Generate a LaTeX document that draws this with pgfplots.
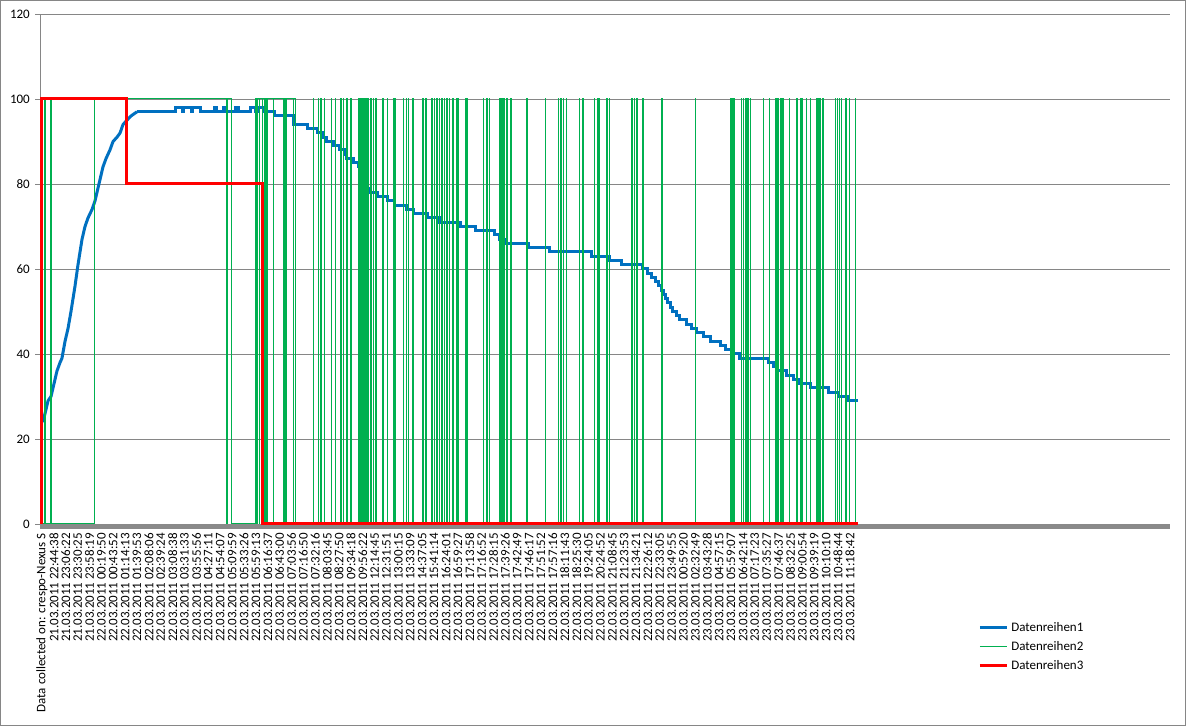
\documentclass[border=0pt]{standalone}
\usepackage{pgfplots}
\pgfplotsset{compat=1.18}
\usepackage{fontspec}
\setmainfont{Carlito}
\definecolor{sblue}{HTML}{0070C0}
\definecolor{sgreen}{HTML}{00B050}
\definecolor{sred}{HTML}{FF0000}
\definecolor{gridg}{HTML}{868686}
\definecolor{bandg}{HTML}{8A8A8A}

% Series 1, rising part (dense readings)
\pgfplotstableread{
x y
0 24
1.7 25
3.4 27
5.1 29
7.6 30
10.1 33
12.6 36
15.2 38
16.8 39
19.4 43
21.9 46
24.4 50
26.1 53
27.8 56
30.3 61
32.0 64
33.7 67
36.2 70
38.7 72
42.1 74
44.6 76
47.1 79
48.8 81
51.3 84
53.9 86
57.2 88
59.8 90
63.1 91
65.7 92
68.2 94
71.5 95
74.9 96
80.0 97
}\seriesArise

% Series 1, stepped part
\pgfplotstableread{
x y
80.0 97
112.0 98
118.0 97
119.0 98
126.0 97
127.0 98
133.0 97
145.6 98
147.3 97
152.4 98
154.0 97
162.5 98
165.0 97
175.1 98
180.0 97
181.0 98
187.7 97
196.1 96
211.3 94
223.1 93
232.3 92
235.7 91
239.1 90
245.0 89
250.8 88
254.2 87
256.7 86
261.8 85
266.0 84
270.2 80
272.7 79
276.1 78
282.0 77
290.4 76
296.3 75
306.4 74
313.1 73
324.1 72
334.2 71
351.9 70
365.3 69
380.5 68
384.7 67
388.9 66
409.1 65
426.8 64
462.2 63
477.3 62
487.4 61
505.1 60
509.3 59
512.7 58
516.1 57
518.6 56
521.1 55
522.8 54
524.5 53
526.2 52
528.6 51
531.1 50
533.7 49
537.0 48
542.1 47
546.3 46
551.3 45
557.2 44
562.3 43
570.7 42
574.9 41
580.8 40
587.5 39
611.1 38
615.3 37
619.5 36
626.3 35
632.2 34
637.2 33
646.5 32
661.6 31
670.1 30
677.7 29
687.0 29
}\seriesA

\pgfplotstableread{
x y
0 0
2.5 100
2.8 0
7.3 100
7.6 0
44.0 100
155.5 0
155.8 100
159.7 0
179.3 100
180.7 0
181.0 100
182.9 0
183.2 100
185.4 0
185.7 100
187.7 0
188.0 100
189.1 0
189.4 100
194.7 0
195.0 100
203.1 0
203.4 100
203.8 0
204.1 100
204.5 0
204.8 100
205.1 0
205.4 100
211.5 0
211.8 100
213.6 0
228.4 100
228.7 0
232.6 100
232.9 0
234.6 100
234.9 0
237.4 100
237.7 0
243.3 100
243.6 0
246.7 100
247.0 0
251.4 100
251.7 0
253.6 100
253.9 0
256.5 100
256.8 0
259.9 100
260.2 0
266.0 100
266.3 0
266.9 100
267.2 0
267.7 100
268.0 0
268.5 100
268.8 0
269.4 100
269.7 0
270.2 100
270.5 0
271.0 100
271.3 0
271.9 100
272.2 0
272.7 100
273.0 0
273.6 100
273.9 0
274.4 100
274.7 0
276.9 100
277.2 0
278.9 100
279.2 0
281.1 100
281.4 0
286.8 100
287.1 0
290.7 100
291.0 0
295.7 100
296.0 0
297.1 100
297.4 0
304.1 100
304.4 0
306.4 100
306.7 0
308.3 100
308.6 0
312.0 100
312.3 0
320.5 100
320.8 0
323.2 100
323.5 0
328.0 100
328.3 0
330.0 100
330.3 0
332.2 100
332.5 0
334.4 100
334.7 0
336.5 100
336.8 0
338.4 100
338.7 0
340.7 100
341.0 0
342.8 100
343.1 0
345.7 100
346.0 0
349.1 100
349.4 0
349.7 100
350.0 0
350.4 100
350.7 0
356.1 100
356.4 0
356.9 100
357.2 0
357.8 100
358.1 0
371.5 100
371.8 0
374.3 100
374.6 0
376.5 100
376.8 0
385.5 100
385.8 0
386.4 100
386.7 0
387.2 100
387.5 0
388.1 100
388.4 0
388.9 100
389.2 0
391.2 100
391.5 0
394.5 100
394.8 0
408.0 100
408.3 0
423.4 100
423.7 0
434.6 100
434.9 0
436.6 100
436.9 0
438.8 100
439.1 0
441.1 100
441.4 0
452.3 100
452.6 0
455.1 100
455.4 0
464.7 100
465.0 0
467.4 100
467.7 0
468.6 100
468.9 0
475.4 100
475.7 0
477.5 100
477.8 0
496.4 100
496.7 0
498.3 100
498.6 0
500.6 100
500.9 0
505.6 100
505.9 0
506.2 100
506.5 0
521.6 100
521.9 0
549.7 100
550.0 0
579.1 100
579.4 0
579.9 100
580.2 0
580.8 100
581.1 0
581.6 100
581.9 0
582.5 100
582.8 0
588.4 100
588.7 0
590.3 100
590.6 0
592.4 100
592.7 0
593.4 100
593.7 0
594.7 100
595.0 0
596.0 100
596.3 0
607.2 100
607.5 0
612.2 100
612.5 0
617.6 100
617.9 0
618.7 100
619.0 0
619.8 100
620.1 0
621.2 100
621.5 0
622.6 100
622.9 0
624.0 100
624.3 0
629.1 100
629.4 0
635.3 100
635.6 0
638.1 100
638.4 0
639.5 100
639.8 0
643.1 100
643.4 0
646.5 100
646.8 0
652.1 100
652.4 0
653.2 100
653.5 0
654.0 100
654.3 0
654.9 100
655.2 0
657.2 100
657.5 0
667.5 100
667.8 0
669.2 100
669.5 0
670.9 100
671.2 0
672.6 100
672.9 0
676.6 100
676.9 0
679.6 100
679.9 0
684.4 100
684.7 0
687.0 0
}\seriesB

\pgfplotstableread{
x y
0 0
0 100
71.5 100
71.5 80
185.4 80
185.4 0
687.0 0
}\seriesC

\begin{document}
\begin{tikzpicture}[x=1pt,y=1pt]
\useasboundingbox (0,0) rectangle (1187,726);
\draw[gridg, line width=0.8pt] (0.5,0.5) rectangle (1185,725.5);
\begin{axis}[
  at={(40pt,202pt)}, anchor=south west,
  scale only axis, width=1130pt, height=510pt,
  xmin=-1.68, xmax=949.5, ymin=0, ymax=120,
  clip=false,
  separate axis lines,
  axis x line*=bottom, axis y line*=left,
  axis line style={gridg, line width=0.8pt},
  ymajorgrids, grid style={gridg, line width=0.8pt},
  ytick={0,20,...,120},
  ytick align=outside, xtick align=inside,
  major tick length=5pt,
  ytick style={gridg, line width=0.8pt},
  xtick style={draw=none},
  yticklabel style={font=\fontsize{13}{15}\selectfont, inner sep=0pt, xshift=-5pt},
  /pgf/number format/assume math mode=true,
  xtick={0,10,...,680},
  xticklabels={Data collected on: crespo-Nexus S,
21.03.2011 22:44:38,21.03.2011 23:06:22,21.03.2011 23:30:25,21.03.2011 23:58:19,
22.03.2011 00:19:50,22.03.2011 00:43:52,22.03.2011 01:14:13,22.03.2011 01:39:53,
22.03.2011 02:08:06,22.03.2011 02:39:24,22.03.2011 03:08:38,22.03.2011 03:31:33,
22.03.2011 03:55:56,22.03.2011 04:27:11,22.03.2011 04:54:07,22.03.2011 05:09:59,
22.03.2011 05:33:26,22.03.2011 05:59:13,22.03.2011 06:16:37,22.03.2011 06:43:00,
22.03.2011 07:03:56,22.03.2011 07:16:50,22.03.2011 07:32:16,22.03.2011 08:03:45,
22.03.2011 08:27:50,22.03.2011 09:34:18,22.03.2011 09:56:22,22.03.2011 12:14:45,
22.03.2011 12:31:51,22.03.2011 13:00:15,22.03.2011 13:33:09,22.03.2011 14:37:05,
22.03.2011 15:41:14,22.03.2011 16:24:01,22.03.2011 16:59:27,22.03.2011 17:13:58,
22.03.2011 17:16:52,22.03.2011 17:28:15,22.03.2011 17:39:26,22.03.2011 17:42:49,
22.03.2011 17:46:17,22.03.2011 17:51:52,22.03.2011 17:57:16,22.03.2011 18:11:43,
22.03.2011 18:25:30,22.03.2011 19:24:05,22.03.2011 20:24:52,22.03.2011 21:08:45,
22.03.2011 21:23:53,22.03.2011 21:34:21,22.03.2011 22:26:12,22.03.2011 22:33:05,
22.03.2011 23:49:55,23.03.2011 00:59:20,23.03.2011 02:32:49,23.03.2011 03:43:28,
23.03.2011 04:57:15,23.03.2011 05:59:07,23.03.2011 06:42:14,23.03.2011 07:17:23,
23.03.2011 07:35:27,23.03.2011 07:46:37,23.03.2011 08:32:25,23.03.2011 09:00:54,
23.03.2011 09:39:19,23.03.2011 10:10:10,23.03.2011 10:48:44,23.03.2011 11:18:42},
  xticklabel style={font=\fontsize{13}{15}\selectfont, rotate=90, anchor=east, inner sep=0pt, inner xsep=9pt},
  legend style={at={(0.8301,-0.1918)}, anchor=north west, draw=none, fill=none,
    font=\fontsize{13}{15}\selectfont, row sep=8.5pt, inner sep=0pt,
    nodes={inner sep=0pt, inner xsep=3pt}},
  legend cell align=left,
]
\fill[bandg] (rel axis cs:0,0) rectangle ([yshift=-5.5pt]rel axis cs:1,0);
\addplot[sblue, line width=3pt, line join=round, forget plot] table[x=x,y=y] {\seriesArise};
\addplot[sblue, line width=3pt, const plot,
  legend image code/.code={\draw[sblue, line width=3pt] (0pt,0pt) -- (27pt,0pt);}] table[x=x,y=y] {\seriesA};
\addlegendentry{Datenreihen1}
\addplot[sgreen, line width=1pt, const plot,
  legend image code/.code={\draw[sgreen, line width=1.2pt] (0pt,0pt) -- (27pt,0pt);}] table[x=x,y=y] {\seriesB};
\addlegendentry{Datenreihen2}
\addplot[sred, line width=3pt,
  legend image code/.code={\draw[sred, line width=3pt] (0pt,0pt) -- (27pt,0pt);}] table[x=x,y=y] {\seriesC};
\addlegendentry{Datenreihen3}
\end{axis}
\end{tikzpicture}
\end{document}
